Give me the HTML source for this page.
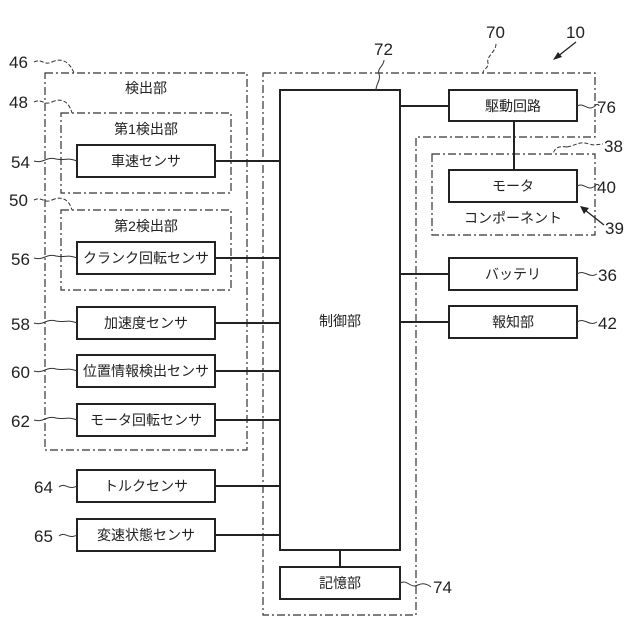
<!DOCTYPE html>
<html><head><meta charset="utf-8"><style>
body{margin:0;background:#fff}
svg{display:block}
text{font-family:"Liberation Sans","Noto Sans CJK JP",sans-serif;fill:#222}
.b{fill:#fff;stroke:#222;stroke-width:2}
.d{fill:none;stroke:#333;stroke-width:1.2;stroke-dasharray:8,3,2,3}
.l{stroke:#222;stroke-width:2;fill:none}
.t{font-size:14px;text-anchor:middle}
.n{font-size:17px}
.w{fill:none;stroke:#333;stroke-width:1}
</style></head><body>
<svg width="640" height="640" viewBox="0 0 640 640" xmlns="http://www.w3.org/2000/svg">
<!-- container 70 -->
<path class="d" d="M263,73 H595 V137 H416 V615 H263 Z"/>
<!-- 46 -->
<rect class="d" x="45" y="73" width="202" height="377"/>
<text class="t" x="146" y="93">検出部</text>
<rect class="d" x="61" y="113" width="170" height="80"/>
<text class="t" x="146" y="134">第1検出部</text>
<rect class="d" x="61" y="210" width="170" height="80"/>
<text class="t" x="146" y="231">第2検出部</text>
<!-- component 38 -->
<rect class="d" x="432" y="154" width="163" height="81"/>
<text class="t" x="513" y="223">コンポーネント</text>

<!-- connectors -->
<g class="l">
<line x1="215" y1="161" x2="280" y2="161"/>
<line x1="215" y1="258" x2="280" y2="258"/>
<line x1="215" y1="323" x2="280" y2="323"/>
<line x1="215" y1="371" x2="280" y2="371"/>
<line x1="215" y1="420" x2="280" y2="420"/>
<line x1="215" y1="486" x2="280" y2="486"/>
<line x1="215" y1="535" x2="280" y2="535"/>
<line x1="400" y1="106" x2="449" y2="106"/>
<line x1="400" y1="274" x2="449" y2="274"/>
<line x1="400" y1="322" x2="449" y2="322"/>
<line x1="514" y1="121" x2="514" y2="170"/>
<line x1="340" y1="550" x2="340" y2="567"/>
</g>

<!-- boxes -->
<rect class="b" x="280" y="90" width="120" height="460"/>
<text class="t" x="340" y="326">制御部</text>
<rect class="b" x="280" y="567" width="120" height="32"/>
<text class="t" x="340" y="588">記憶部</text>

<rect class="b" x="449" y="90" width="128" height="31"/><text class="t" x="513" y="111">駆動回路</text>
<rect class="b" x="449" y="170" width="128" height="32"/><text class="t" x="513" y="191">モータ</text>
<rect class="b" x="449" y="258" width="128" height="32"/><text class="t" x="513" y="279">バッテリ</text>
<rect class="b" x="449" y="306" width="128" height="32"/><text class="t" x="513" y="327">報知部</text>

<rect class="b" x="77" y="145" width="138" height="32"/><text class="t" x="146" y="166">車速センサ</text>
<rect class="b" x="77" y="242" width="138" height="32"/><text class="t" x="146" y="263">クランク回転センサ</text>
<rect class="b" x="77" y="307" width="138" height="32"/><text class="t" x="146" y="328">加速度センサ</text>
<rect class="b" x="77" y="355" width="138" height="32"/><text class="t" x="146" y="376">位置情報検出センサ</text>
<rect class="b" x="77" y="404" width="138" height="32"/><text class="t" x="146" y="425">モータ回転センサ</text>
<rect class="b" x="77" y="470" width="138" height="32"/><text class="t" x="146" y="491">トルクセンサ</text>
<rect class="b" x="77" y="519" width="138" height="32"/><text class="t" x="146" y="540">変速状態センサ</text>

<!-- reference numerals -->
<g class="n">
<text x="9" y="68">46</text>
<text x="9" y="108">48</text>
<text x="9" y="206">50</text>
<text x="11" y="168">54</text>
<text x="11" y="265">56</text>
<text x="11" y="330">58</text>
<text x="11" y="378">60</text>
<text x="11" y="427">62</text>
<text x="34" y="493">64</text>
<text x="34" y="542">65</text>
<text x="374" y="55">72</text>
<text x="486" y="38">70</text>
<text x="566" y="38">10</text>
<text x="597" y="113">76</text>
<text x="604" y="152">38</text>
<text x="597" y="193">40</text>
<text x="605" y="234">39</text>
<text x="598" y="281">36</text>
<text x="598" y="329">42</text>
<text x="433" y="593">74</text>
</g>
<!-- leader squiggles -->
<g class="w">
<path d="M34,62 c8,-4 10,4 18,0 M52,62 c6,-3 16,-4 22,11" stroke-dasharray="4,2"/>
<path d="M34,102 c8,-4 10,4 18,0 M52,102 c6,-3 16,-4 20,11" stroke-dasharray="4,2"/>
<path d="M34,200 c8,-4 10,4 18,0 M52,200 c6,-3 16,-4 20,10" stroke-dasharray="4,2"/>
<path d="M34,161 c10,3 12,-5 22,-2 c8,2 12,-2 21,2"/>
<path d="M34,258 c10,3 12,-5 22,-2 c8,2 12,-2 21,2"/>
<path d="M34,323 c10,3 12,-5 22,-2 c8,2 12,-2 21,2"/>
<path d="M34,371 c10,3 12,-5 22,-2 c8,2 12,-2 21,2"/>
<path d="M34,420 c10,3 12,-5 22,-2 c8,2 12,-2 21,2"/>
<path d="M59,487 c6,-5 10,4 18,-1"/>
<path d="M59,536 c6,-5 10,4 18,-1"/>
<path d="M384,60 c0,6 -7,8 -5,14 c2,6 -3,10 -3,16"/>
<path d="M496,44 c0,8 -10,12 -8,19 c1,5 -5,6 -5,10" stroke-dasharray="4,2"/>
<path d="M577,106 c8,-4 10,6 18,0 M595,106 c2,-3 4,-1 4,0"/>
<path d="M577,186 c8,-4 10,6 18,0 M595,186 c2,-3 4,-1 4,0"/>
<path d="M577,274 c8,-5 12,5 20,0"/>
<path d="M577,322 c8,-5 12,5 20,0"/>
<path d="M400,583 c8,-4 10,6 18,2 c4,-2 8,-2 13,2"/>
<path d="M567,147 c10,-2 12,-6 22,-3 c6,2 10,0 14,0" stroke-dasharray="4,2"/>
<path d="M567,147 c-8,-1 -12,0 -14,7" stroke-dasharray="4,2"/>
</g>
<!-- arrows -->
<line x1="576" y1="42" x2="557" y2="57" stroke="#222" stroke-width="1.3"/>
<path d="M553,60 L562,57 L558,52 Z" fill="#222"/>
<line x1="604" y1="225" x2="585" y2="210" stroke="#222" stroke-width="1.3"/>
<path d="M580,206 L589,208 L584,214 Z" fill="#222"/>
</svg>
</body></html>
